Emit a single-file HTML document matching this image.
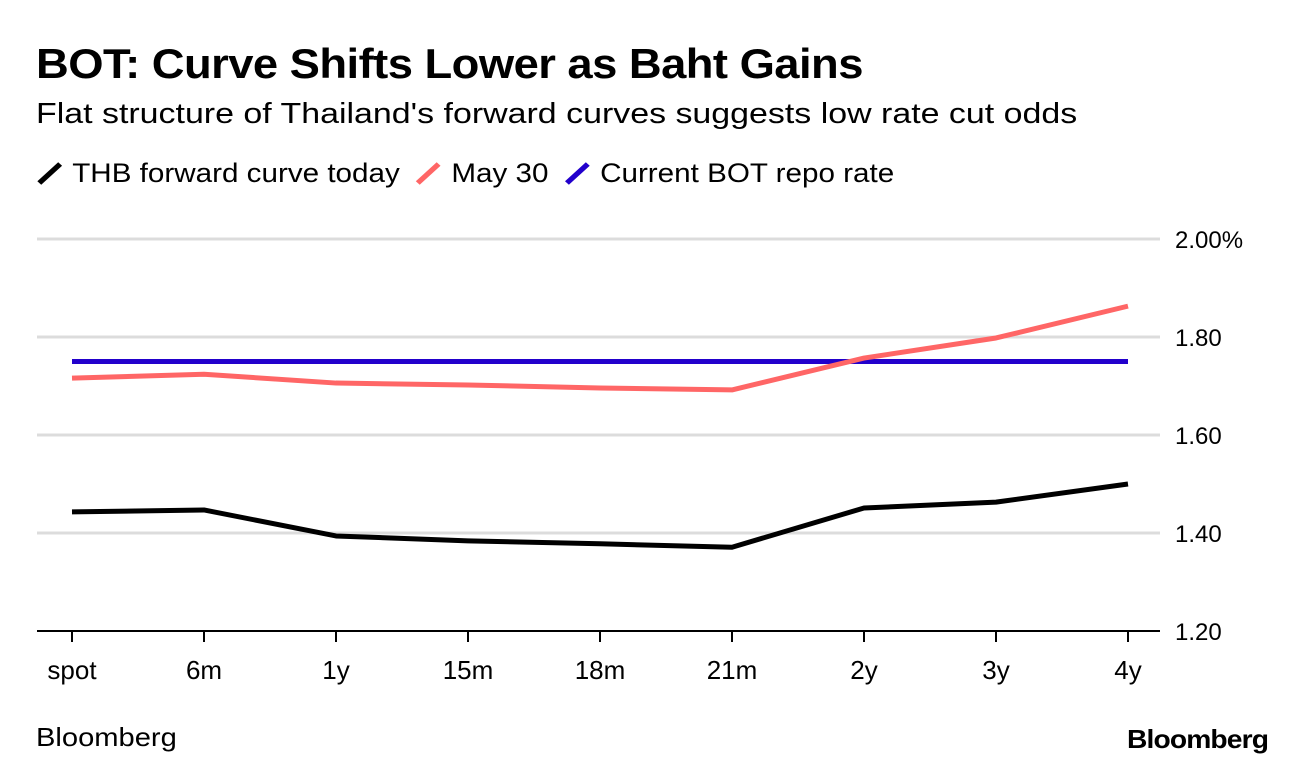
<!DOCTYPE html>
<html><head><meta charset="utf-8"><style>
body{margin:0;background:#fff;font-family:"Liberation Sans",sans-serif;}
#wrap{position:relative;width:1296px;height:768px;overflow:hidden;}
.t{position:absolute;white-space:nowrap;color:#000;transform-origin:0 0;}
</style></head><body>
<div id="wrap">
<div class="t" style="left:36px;top:40px;font-size:42px;font-weight:bold;letter-spacing:-0.5px;transform:scaleX(1.08)">BOT: Curve Shifts Lower as Baht Gains</div>
<div class="t" style="left:36px;top:98px;font-size:29px;transform:scaleX(1.17)">Flat structure of Thailand's forward curves suggests low rate cut odds</div>
<div class="t" style="left:36px;top:158px;font-size:27px;transform:scaleX(1.097)">
<span><svg width="26" height="24" style="vertical-align:-3px"><line x1="3" y1="22" x2="22" y2="3" stroke="#000" stroke-width="5"/></svg> THB forward curve today</span>
<span style="margin-left:6px"><svg width="26" height="24" style="vertical-align:-3px"><line x1="3" y1="22" x2="22" y2="3" stroke="#ff6666" stroke-width="5"/></svg> May 30</span>
<span style="margin-left:6px"><svg width="26" height="24" style="vertical-align:-3px"><line x1="3" y1="22" x2="22" y2="3" stroke="#2200cc" stroke-width="5"/></svg> Current BOT repo rate</span>
</div>
<svg id="plot" width="1296" height="768" style="position:absolute;left:0;top:0"></svg>
<div class="t" style="left:36px;top:722px;font-size:26px;transform:scaleX(1.12)">Bloomberg</div>
<div class="t" style="left:1127px;top:724px;font-size:26px;font-weight:bold;letter-spacing:-0.8px;transform:scaleX(1.085)">Bloomberg</div>
</div>
<script>
const categories=["spot","6m","1y","15m","18m","21m","2y","3y","4y"];
const todayValues=[1.443,1.447,1.394,1.384,1.378,1.371,1.451,1.463,1.50];
const may30Values=[1.716,1.724,1.706,1.702,1.696,1.692,1.757,1.798,1.863];
const repoValues=[1.75,1.75,1.75,1.75,1.75,1.75,1.75,1.75,1.75];
const yTicks=[1.2,1.4,1.6,1.8,2.0];
const yTickLabels=["1.20","1.40","1.60","1.80","2.00%"];
const NS="http://www.w3.org/2000/svg";
const svg=document.getElementById('plot');
const x=i=>72+i*132;
const y=v=>631-(v-1.2)/0.8*392;
function mk(t,a){const e=document.createElementNS(NS,t);for(const k in a)e.setAttribute(k,a[k]);svg.appendChild(e);return e;}
yTicks.forEach((v,i)=>{
 if(i>0){const g=mk('line',{x1:37,x2:1160,y1:y(v),y2:y(v),stroke:'#dcdcdc','stroke-width':3});
 
 }
 const t=mk('text',{x:1175,y:y(v)+9,'font-size':24,'font-family':'Liberation Sans, sans-serif'});
 t.textContent=yTickLabels[i];
 
 
});
const ax=mk('line',{x1:37,x2:1160,y1:631,y2:631,stroke:'#000','stroke-width':2});


categories.forEach((c,i)=>{
 const tk=mk('line',{x1:x(i),x2:x(i),y1:631,y2:642,stroke:'#000','stroke-width':2});
 
 
 const t=mk('text',{x:x(i),y:679,'font-size':26,'text-anchor':'middle','font-family':'Liberation Sans, sans-serif'});
 t.textContent=c;
 
 
});
function line(vals,color,name){
 const p=mk('polyline',{points:vals.map((v,i)=>x(i)+','+y(v)).join(' '),fill:'none',stroke:color,'stroke-width':5,'stroke-linejoin':'round'});
 
 
}
line(repoValues,'#2200cc','repo-rate-line');
line(may30Values,'#ff6666','may30-line');
line(todayValues,'#000','today-line');
</script>
</body></html>
